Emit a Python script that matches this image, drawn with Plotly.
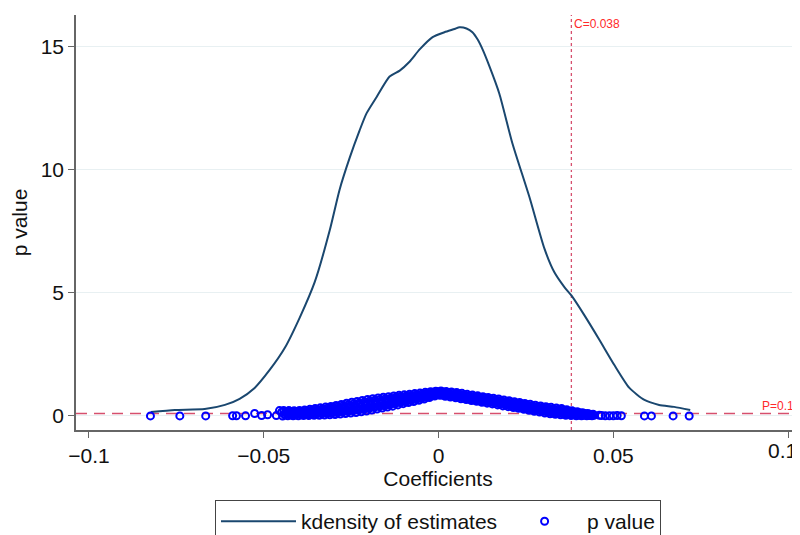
import plotly.graph_objects as go

# Kernel density of estimates
kd_x = [-0.0823, -0.0754, -0.0669, -0.0611, -0.0569, -0.0526, -0.0483, -0.0440, -0.0397, -0.0354,
        -0.0311, -0.0283, -0.0254, -0.0226, -0.0206, -0.0177, -0.0140, -0.0111, -0.0083, -0.0054,
        -0.0017, 0.0017, 0.0046, 0.0060, 0.0080, 0.0097, 0.0112, 0.0126, 0.0146, 0.0174,
        0.0211, 0.0260, 0.0303, 0.0331, 0.0360, 0.0380, 0.0417, 0.0460, 0.0503, 0.0546,
        0.0589, 0.0631, 0.0674, 0.0720]
kd_y = [0.16, 0.24, 0.28, 0.45, 0.70, 1.14, 1.87, 2.76, 4.00, 5.45,
        7.56, 9.20, 10.50, 11.60, 12.30, 12.97, 13.80, 14.04, 14.40, 14.90,
        15.40, 15.60, 15.73, 15.80, 15.75, 15.60, 15.30, 14.90, 14.20, 13.10,
        11.10, 8.90, 6.80, 5.85, 5.24, 4.90, 4.10, 3.10, 2.07, 1.14,
        0.65, 0.45, 0.37, 0.24]

# p values of the individual estimates
coef_tail_left = [-0.0824, -0.0740, -0.0666, -0.0589, -0.0578, -0.0552, -0.0526, -0.0506, -0.0489, -0.0464, -0.0455]
pval_tail_left = [0.002, 0.003, 0.004, 0.010, 0.008, 0.006, 0.100, 0.020, 0.050, 0.015, 0.220]
coef_tail_right = [0.0460, 0.0466, 0.0477, 0.0489, 0.0500, 0.0511, 0.0523, 0.0589, 0.0609, 0.0671, 0.0717]
pval_tail_right = [0.030, 0.020, 0.010, 0.005, 0.010, 0.020, 0.010, 0.003, 0.004, 0.002, 0.001]

coef_band = [
    -0.0443, -0.0449, -0.0440, -0.0446, -0.0428, -0.0434, -0.0425, -0.0431,
    -0.0413, -0.0419, -0.0410, -0.0416, -0.0398, -0.0404, -0.0395, -0.0401,
    -0.0383, -0.0389, -0.0380, -0.0386, -0.0368, -0.0374, -0.0365, -0.0371,
    -0.0353, -0.0359, -0.0350, -0.0356, -0.0338, -0.0344, -0.0335, -0.0341,
    -0.0323, -0.0329, -0.0320, -0.0326, -0.0308, -0.0314, -0.0305, -0.0311,
    -0.0293, -0.0299, -0.0290, -0.0296, -0.0278, -0.0284, -0.0275, -0.0281,
    -0.0263, -0.0269, -0.0260, -0.0266, -0.0248, -0.0254, -0.0245, -0.0251,
    -0.0233, -0.0239, -0.0230, -0.0236, -0.0218, -0.0224, -0.0215, -0.0221,
    -0.0203, -0.0209, -0.0200, -0.0206, -0.0188, -0.0194, -0.0185, -0.0191,
    -0.0173, -0.0179, -0.0170, -0.0176, -0.0158, -0.0164, -0.0155, -0.0161,
    -0.0143, -0.0149, -0.0140, -0.0146, -0.0128, -0.0134, -0.0125, -0.0131,
    -0.0113, -0.0119, -0.0110, -0.0116, -0.0098, -0.0104, -0.0095, -0.0101,
    -0.0083, -0.0089, -0.0080, -0.0086, -0.0068, -0.0074, -0.0065, -0.0071,
    -0.0053, -0.0059, -0.0050, -0.0056, -0.0038, -0.0044, -0.0035, -0.0041,
    -0.0023, -0.0029, -0.0020, -0.0026, -0.0008, -0.0014, -0.0005, -0.0011,
    0.0007, 0.0001, 0.0010, 0.0004, 0.0022, 0.0016, 0.0025, 0.0019,
    0.0037, 0.0031, 0.0040, 0.0034, 0.0052, 0.0046, 0.0055, 0.0049,
    0.0067, 0.0061, 0.0070, 0.0064, 0.0082, 0.0076, 0.0085, 0.0079,
    0.0097, 0.0091, 0.0100, 0.0094, 0.0112, 0.0106, 0.0115, 0.0109,
    0.0127, 0.0121, 0.0130, 0.0124, 0.0142, 0.0136, 0.0145, 0.0139,
    0.0157, 0.0151, 0.0160, 0.0154, 0.0172, 0.0166, 0.0175, 0.0169,
    0.0187, 0.0181, 0.0190, 0.0184, 0.0202, 0.0196, 0.0205, 0.0199,
    0.0217, 0.0211, 0.0220, 0.0214, 0.0232, 0.0226, 0.0235, 0.0229,
    0.0247, 0.0241, 0.0250, 0.0244, 0.0262, 0.0256, 0.0265, 0.0259,
    0.0277, 0.0271, 0.0280, 0.0274, 0.0292, 0.0286, 0.0295, 0.0289,
    0.0307, 0.0301, 0.0310, 0.0304, 0.0322, 0.0316, 0.0325, 0.0319,
    0.0337, 0.0331, 0.0340, 0.0334, 0.0352, 0.0346, 0.0355, 0.0349,
    0.0367, 0.0361, 0.0370, 0.0364, 0.0382, 0.0376, 0.0385, 0.0379,
    0.0397, 0.0391, 0.0400, 0.0394, 0.0412, 0.0406, 0.0415, 0.0409,
    0.0427, 0.0421, 0.0430, 0.0424, 0.0442, 0.0436, 0.0445, 0.0439,
]
pval_band = [
    0.22, 0.15, 0.07, 0.00, 0.22, 0.15, 0.08, 0.01,
    0.21, 0.14, 0.08, 0.01, 0.22, 0.15, 0.08, 0.01,
    0.24, 0.17, 0.09, 0.02, 0.27, 0.19, 0.10, 0.02,
    0.30, 0.21, 0.12, 0.03, 0.33, 0.23, 0.13, 0.03,
    0.36, 0.25, 0.15, 0.04, 0.39, 0.28, 0.16, 0.05,
    0.43, 0.31, 0.18, 0.06, 0.47, 0.34, 0.21, 0.08,
    0.52, 0.38, 0.24, 0.10, 0.56, 0.41, 0.27, 0.12,
    0.59, 0.44, 0.29, 0.14, 0.63, 0.48, 0.32, 0.17,
    0.67, 0.51, 0.36, 0.20, 0.70, 0.55, 0.39, 0.24,
    0.73, 0.58, 0.43, 0.28, 0.76, 0.61, 0.47, 0.32,
    0.78, 0.64, 0.50, 0.36, 0.81, 0.67, 0.54, 0.40,
    0.84, 0.71, 0.58, 0.45, 0.86, 0.74, 0.62, 0.50,
    0.88, 0.77, 0.66, 0.55, 0.91, 0.80, 0.70, 0.59,
    0.93, 0.83, 0.74, 0.64, 0.96, 0.87, 0.78, 0.69,
    0.98, 0.90, 0.83, 0.75, 1.01, 0.94, 0.88, 0.81,
    1.02, 0.96, 0.90, 0.84, 0.99, 0.93, 0.86, 0.80,
    0.97, 0.90, 0.84, 0.77, 0.95, 0.88, 0.81, 0.74,
    0.92, 0.85, 0.77, 0.70, 0.88, 0.81, 0.74, 0.67,
    0.85, 0.78, 0.70, 0.63, 0.82, 0.75, 0.67, 0.60,
    0.78, 0.71, 0.63, 0.56, 0.75, 0.67, 0.60, 0.52,
    0.72, 0.64, 0.57, 0.49, 0.69, 0.61, 0.53, 0.45,
    0.65, 0.57, 0.49, 0.41, 0.62, 0.54, 0.46, 0.38,
    0.58, 0.50, 0.42, 0.34, 0.55, 0.47, 0.39, 0.31,
    0.51, 0.43, 0.35, 0.27, 0.48, 0.40, 0.31, 0.23,
    0.44, 0.36, 0.27, 0.19, 0.41, 0.33, 0.24, 0.16,
    0.38, 0.29, 0.21, 0.12, 0.35, 0.26, 0.18, 0.09,
    0.32, 0.24, 0.15, 0.07, 0.30, 0.22, 0.13, 0.05,
    0.25, 0.18, 0.10, 0.03, 0.21, 0.15, 0.08, 0.02,
    0.17, 0.12, 0.06, 0.01, 0.13, 0.09, 0.05, 0.01,
    0.10, 0.07, 0.04, 0.01, 0.07, 0.05, 0.03, 0.005,
]

coef_band_mid = [
    -0.0437, -0.0435, -0.0439, -0.0422, -0.0420, -0.0424, -0.0407, -0.0405, -0.0409,
    -0.0392, -0.0390, -0.0394, -0.0377, -0.0375, -0.0379, -0.0362, -0.0360, -0.0364,
    -0.0347, -0.0345, -0.0349, -0.0332, -0.0330, -0.0334, -0.0317, -0.0315, -0.0319,
    -0.0302, -0.0300, -0.0304, -0.0287, -0.0285, -0.0289, -0.0272, -0.0270, -0.0274,
    -0.0257, -0.0255, -0.0259, -0.0242, -0.0240, -0.0244, -0.0227, -0.0225, -0.0229,
    -0.0212, -0.0210, -0.0214, -0.0197, -0.0195, -0.0199, -0.0182, -0.0180, -0.0184,
    -0.0167, -0.0165, -0.0169, -0.0152, -0.0150, -0.0154, -0.0137, -0.0135, -0.0139,
    -0.0122, -0.0120, -0.0124, -0.0107, -0.0105, -0.0109, -0.0092, -0.0090, -0.0094,
    -0.0077, -0.0075, -0.0079, -0.0062, -0.0060, -0.0064, -0.0047, -0.0045, -0.0049,
    -0.0032, -0.0030, -0.0034, -0.0017, -0.0015, -0.0019, -0.0002, 0.0000, -0.0004,
    0.0013, 0.0015, 0.0011, 0.0028, 0.0030, 0.0026, 0.0043, 0.0045, 0.0041,
    0.0058, 0.0060, 0.0056, 0.0073, 0.0075, 0.0071, 0.0088, 0.0090, 0.0086,
    0.0103, 0.0105, 0.0101, 0.0118, 0.0120, 0.0116, 0.0133, 0.0135, 0.0131,
    0.0148, 0.0150, 0.0146, 0.0163, 0.0165, 0.0161, 0.0178, 0.0180, 0.0176,
    0.0193, 0.0195, 0.0191, 0.0208, 0.0210, 0.0206, 0.0223, 0.0225, 0.0221,
    0.0238, 0.0240, 0.0236, 0.0253, 0.0255, 0.0251, 0.0268, 0.0270, 0.0266,
    0.0283, 0.0285, 0.0281, 0.0298, 0.0300, 0.0296, 0.0313, 0.0315, 0.0311,
    0.0328, 0.0330, 0.0326, 0.0343, 0.0345, 0.0341, 0.0358, 0.0360, 0.0356,
    0.0373, 0.0375, 0.0371, 0.0388, 0.0390, 0.0386, 0.0403, 0.0405, 0.0401,
    0.0418, 0.0420, 0.0416, 0.0433, 0.0435, 0.0431,
]
pval_band_mid = [
    0.18, 0.11, 0.04, 0.18, 0.11, 0.04, 0.18, 0.11, 0.04,
    0.19, 0.12, 0.05, 0.21, 0.14, 0.06, 0.24, 0.16, 0.07,
    0.27, 0.17, 0.08, 0.29, 0.19, 0.09, 0.32, 0.21, 0.10,
    0.35, 0.23, 0.12, 0.39, 0.26, 0.13, 0.43, 0.29, 0.16,
    0.47, 0.33, 0.18, 0.50, 0.35, 0.21, 0.53, 0.38, 0.23,
    0.57, 0.42, 0.26, 0.61, 0.45, 0.30, 0.64, 0.49, 0.34,
    0.67, 0.52, 0.38, 0.70, 0.56, 0.41, 0.72, 0.59, 0.45,
    0.76, 0.63, 0.49, 0.79, 0.66, 0.54, 0.81, 0.70, 0.58,
    0.84, 0.73, 0.63, 0.87, 0.77, 0.67, 0.90, 0.81, 0.71,
    0.93, 0.85, 0.76, 0.96, 0.89, 0.82, 0.98, 0.92, 0.86,
    0.97, 0.91, 0.85, 0.95, 0.88, 0.82, 0.93, 0.86, 0.79,
    0.90, 0.83, 0.76, 0.86, 0.79, 0.72, 0.83, 0.76, 0.69,
    0.80, 0.73, 0.65, 0.76, 0.69, 0.62, 0.73, 0.65, 0.58,
    0.70, 0.62, 0.54, 0.67, 0.59, 0.51, 0.63, 0.55, 0.47,
    0.59, 0.52, 0.44, 0.56, 0.48, 0.40, 0.52, 0.45, 0.37,
    0.49, 0.41, 0.33, 0.45, 0.37, 0.29, 0.42, 0.34, 0.25,
    0.38, 0.30, 0.22, 0.35, 0.27, 0.18, 0.32, 0.24, 0.15,
    0.29, 0.21, 0.12, 0.27, 0.19, 0.10, 0.24, 0.16, 0.08,
    0.20, 0.13, 0.06, 0.16, 0.10, 0.05, 0.13, 0.08, 0.03,
    0.10, 0.06, 0.03, 0.07, 0.05, 0.02,
]

coef_all = coef_tail_left + coef_band + coef_band_mid + coef_tail_right
pval_all = pval_tail_left + pval_band + pval_band_mid + pval_tail_right

c_line = 0.038
p_line = 0.1
x_ticks = [-0.1, -0.05, 0, 0.05, 0.1]
x_tick_labels = ["\u22120.1", "\u22120.05", "0", "0.05", ""]   # last label drawn at the edge below
x_edge_label = "0.1"
y_ticks = [0, 5, 10, 15]

FONT = "Liberation Sans, Arial, sans-serif"
RED = "#d6506e"

fig = go.Figure()
fig.add_trace(go.Scatter(
    x=kd_x, y=kd_y, mode="lines", name="kdensity of estimates",
    line=dict(color="#1a476f", width=2, shape="spline", smoothing=0.6),
))
fig.add_trace(go.Scatter(
    x=coef_all, y=pval_all, mode="markers", name="p value",
    marker=dict(symbol="circle-open", color="#0000ff", size=7, line=dict(width=2, color="#0000ff")),
))

fig.add_shape(type="line", xref="paper", yref="y", x0=0, x1=1, y0=p_line, y1=p_line,
              line=dict(color=RED, width=1.3, dash="11px,7px"), layer="below")
fig.add_shape(type="line", xref="x", yref="paper", x0=c_line, x1=c_line, y0=0, y1=1,
              line=dict(color=RED, width=1.3, dash="3px,3px"), layer="below")

fig.add_annotation(x=c_line, xref="x", y=0.978, yref="paper", text="C=0.038",
                   showarrow=False, xanchor="left", yanchor="middle", xshift=1,
                   font=dict(family=FONT, size=12, color="#ff2a2a"))
fig.add_annotation(x=1, xref="paper", y=p_line, yref="y", text="P=0.1",
                   showarrow=False, xanchor="right", yanchor="bottom", xshift=-4, yshift=-1,
                   font=dict(family=FONT, size=12, color="#ff2a2a"))
fig.add_annotation(x=1, xref="paper", y=0, yref="paper", text=x_edge_label,
                   showarrow=False, xanchor="right", yanchor="top", xshift=-1, yshift=-7,
                   font=dict(family=FONT, size=21, color="#111111"))

fig.update_layout(
    width=792, height=527,
    margin=dict(l=68, r=0, t=7, b=105, autoexpand=False),
    paper_bgcolor="white", plot_bgcolor="white",
    font=dict(family=FONT, size=21, color="#111111"),
    showlegend=True,
    legend=dict(orientation="h", x=0.5, xanchor="center", y=-0.169, yanchor="top",
                bordercolor="#444444", borderwidth=1, bgcolor="white",
                font=dict(family=FONT, size=21, color="#111111"),
                itemwidth=75),
    xaxis=dict(range=[-0.1037, 0.1034], tickvals=x_ticks, ticktext=x_tick_labels,
               showgrid=False, zeroline=False, showline=True, linecolor="#666666", linewidth=1.5,
               ticks="outside", ticklen=6, tickcolor="#666666", tickwidth=1.2, automargin=False,
               title=dict(text="Coefficients", standoff=0, font=dict(size=21))),
    yaxis=dict(range=[-0.57, 16.3], tickvals=y_ticks,
               showgrid=True, gridcolor="#e8f0f2", gridwidth=1.2, zeroline=False,
               showline=True, linecolor="#666666", linewidth=1.5,
               ticks="outside", ticklen=6, tickcolor="#666666", tickwidth=1.2, automargin=False,
               title=dict(text="p value", standoff=10, font=dict(size=21))),
)

fig.write_html("out.html")
